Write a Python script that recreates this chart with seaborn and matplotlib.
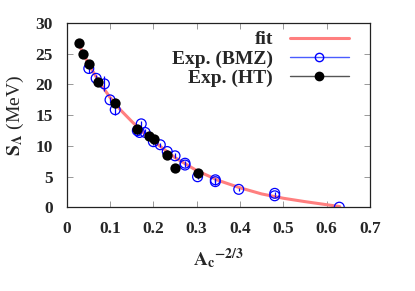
import matplotlib
matplotlib.use("Agg")
import matplotlib.pyplot as plt
import seaborn as sns
import pandas as pd
from matplotlib.lines import Line2D

# fit curve
fit_x = [0.025, 0.05, 0.075, 0.1, 0.125, 0.15, 0.175, 0.2, 0.25, 0.3, 0.35, 0.4, 0.45, 0.5, 0.55, 0.6, 0.63]
fit_y = [26.9, 23.4, 20.4, 17.9, 15.8, 14.0, 12.3, 10.8, 8.1, 6.0, 4.4, 3.2, 2.2, 1.5, 0.95, 0.45, 0.15]

# Exp. (BMZ)
bmz_x = [0.051, 0.068, 0.087, 0.100, 0.112, 0.163, 0.168, 0.172, 0.181, 0.200, 0.216, 0.232, 0.250,
         0.273, 0.273, 0.302, 0.343, 0.343, 0.397, 0.480, 0.480, 0.629]
bmz_y = [22.6, 21.0, 20.1, 17.5, 15.9, 12.5, 12.2, 13.6, 12.2, 10.7, 10.2, 9.1, 8.4,
         7.2, 6.9, 5.0, 4.2, 4.5, 2.95, 2.3, 1.9, 0.05]
bmz_err = [0.8, 0.6, 1.2, 0.5, 0.9, 0.8, 0.4, 0.5, 0.5, 0.5, 0.3, 0.3, 0.4,
           0.3, 0.3, 0.4, 0.5, 0.3, 0.2, 0.2, 0.2, 0.1]

# Exp. (HT)
ht_x = [0.028, 0.037, 0.051, 0.073, 0.112, 0.163, 0.191, 0.202, 0.231, 0.249, 0.302]
ht_y = [26.7, 25.0, 23.4, 20.4, 17.0, 12.7, 11.6, 11.1, 8.5, 6.5, 5.65]
ht_err = [0.3, 0.6, 0.3, 0.3, 0.3, 0.3, 0.3, 0.3, 0.3, 0.3, 0.3]

sns.set_style("ticks")
plt.rcParams['font.family'] = ['Liberation Serif', 'DejaVu Serif']
plt.rcParams['font.weight'] = 'bold'
plt.rcParams['mathtext.fontset'] = 'stix'
plt.rcParams['xtick.direction'] = 'in'
plt.rcParams['ytick.direction'] = 'in'

fig = plt.figure(figsize=(4.15, 2.91), dpi=100)
ax = fig.add_axes([0.1607, 0.287, 0.731, 0.634])

fit_df = pd.DataFrame({"x": fit_x, "y": fit_y})
sns.lineplot(data=fit_df, x="x", y="y", ax=ax, color="#ff7f7f", linewidth=2.2, sort=False, zorder=2)

ax.errorbar(bmz_x, bmz_y, yerr=bmz_err, fmt='none', ecolor='blue', elinewidth=0.9, capsize=0, zorder=3)
sns.scatterplot(x=bmz_x, y=bmz_y, ax=ax, s=50, facecolor='none', edgecolor='blue', linewidth=0.9, zorder=4)

ax.errorbar(ht_x, ht_y, yerr=ht_err, fmt='none', ecolor='black', elinewidth=0.9, capsize=0, zorder=5)
sns.scatterplot(x=ht_x, y=ht_y, ax=ax, s=55, color='black', edgecolor='black', linewidth=0, zorder=6)

ax.set_xlim(0, 0.7)
ax.set_ylim(0, 30)
ax.set_xticks([0, 0.1, 0.2, 0.3, 0.4, 0.5, 0.6, 0.7])
ax.set_xticklabels(["0", "0.1", "0.2", "0.3", "0.4", "0.5", "0.6", "0.7"])
ax.set_yticks([0, 5, 10, 15, 20, 25, 30])
ax.tick_params(axis='both', which='both', direction='in', top=True, right=True,
               length=4, width=0.6, color='#888888', labelsize=12.5)
ax.tick_params(axis='x', pad=10)
ax.tick_params(axis='y', pad=10)
for s in ax.spines.values():
    s.set_linewidth(0.9)
    s.set_color('#222222')

ax.set_xlabel(r'$\mathbf{A_c}^{\mathbf{-2/3}}$', fontsize=14, labelpad=6)
ax.set_ylabel(r'$\mathbf{S}_{\Lambda}$ (MeV)', fontsize=14, labelpad=7)

handles = [
    Line2D([], [], color='#ff7f7f', linewidth=2.2),
    Line2D([], [], color='#4a5cff', linewidth=1, marker='o', markersize=6,
           markerfacecolor='none', markeredgecolor='blue'),
    Line2D([], [], color='#555555', linewidth=1, marker='o', markersize=6,
           markerfacecolor='black', markeredgecolor='black'),
]
ax.legend(handles, ["fit", "Exp. (BMZ)", "Exp. (HT)"], loc='upper right', frameon=False,
          markerfirst=False, fontsize=14, handlelength=3.0, handletextpad=0.9,
          labelspacing=0.08, borderaxespad=0.0, bbox_to_anchor=(0.955, 1.0))

fig.savefig("out.png", dpi=100)
plt.close(fig)
